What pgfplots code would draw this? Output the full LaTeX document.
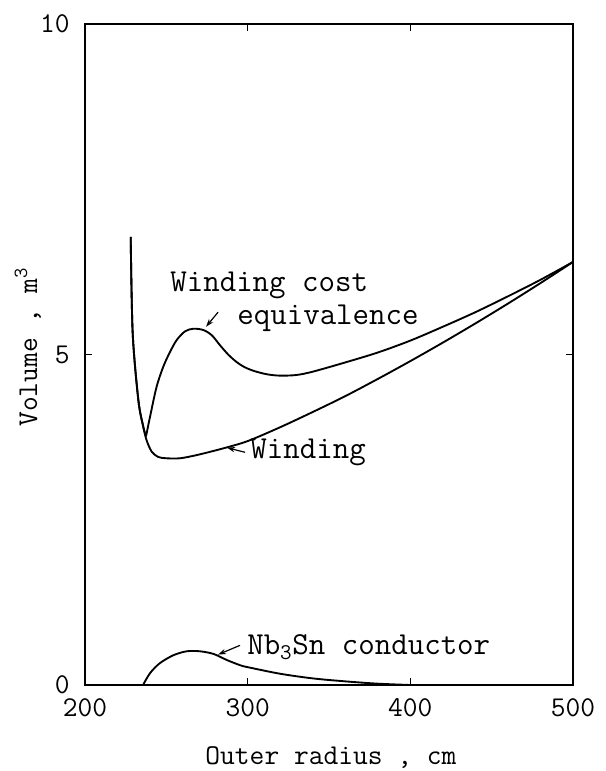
\documentclass[border=0pt]{standalone}
\usepackage{fontspec}
\usepackage{pgfplots}
\pgfplotsset{compat=1.18}
\usetikzlibrary{arrows.meta}
\newcommand{\lbl}{\ttfamily\fontsize{21.5}{21.5}\selectfont}
\newcommand{\ann}{\ttfamily\fontsize{24}{24}\selectfont}
\begin{document}
\begin{tikzpicture}
\begin{axis}[
  at={(0,0)}, anchor=south west,
  width=366pt, height=495.75pt, scale only axis,
  xmin=200, xmax=500, ymin=0, ymax=10,
  xtick={200,300,400,500}, ytick={0,5,10},
  tick align=inside, major tick length=5pt,
  axis line style={line width=1.4pt},
  tick style={line width=1.1pt, black},
  /pgf/number format/assume math mode=true,
  ticklabel style={font=\lbl},
  xticklabel style={yshift=-7pt},
  yticklabel style={xshift=-8pt},
  xlabel={Outer radius , cm},
  ylabel={Volume , m\textsuperscript{3}},
  label style={font=\lbl},
  xlabel style={at={(axis description cs:0.504,-0.110)}, anchor=center},
  ylabel style={at={(axis description cs:-0.117,0.511)}, anchor=center},
  clip=false,
]
% Winding (shares the steep descending part)
\addplot[black, line width=1.4pt, smooth] coordinates {
 (228.1,6.78) (229.3,5.33) (232.8,4.31) (235.8,3.91) (237.9,3.70)
 (241,3.53) (245,3.45) (250,3.43) (258.4,3.43) (269,3.48) (285,3.58)
 (300,3.69) (320,3.90) (340,4.13) (360,4.37) (380,4.63) (400,4.90)
 (420,5.18) (440,5.47) (460,5.77) (480,6.08) (500,6.40)
};
% Winding cost equivalence: descending part
\addplot[black, line width=1.4pt, smooth] coordinates {
 (228.1,6.78) (229.3,5.33) (232.8,4.31) (235.8,3.91) (237.5,3.76)
};
% Winding cost equivalence: branch
\addplot[black, line width=1.4pt, smooth] coordinates {
 (237.5,3.76) (240,4.06) (244,4.51) (248.2,4.82) (252.3,5.04) (256.4,5.22)
 (261.5,5.35) (266.6,5.39) (272.8,5.37) (278,5.29) (283,5.14) (288,5.00)
 (293,4.89) (298,4.81) (304,4.75) (312,4.70) (320,4.68) (330,4.69) (340,4.74)
 (360,4.88) (380,5.03) (400,5.21) (420,5.42) (440,5.64) (460,5.88)
 (480,6.13) (500,6.40)
};
% Nb3Sn conductor
\addplot[black, line width=1.4pt, smooth] coordinates {
 (235.7,0) (240,0.18) (246,0.33) (254.3,0.45) (262.5,0.51) (270.7,0.51)
 (279,0.47) (287,0.38) (295.3,0.30) (300,0.27) (320,0.17) (340,0.10)
 (360,0.055) (380,0.02) (400,0)
};
% annotations
\node[anchor=west, inner sep=0, font=\ann] at (axis cs:252.3,6.05) {Winding cost};
\node[anchor=west, inner sep=0, font=\ann] at (axis cs:293.5,5.55) {equivalence};
\draw[-{Stealth[length=6pt,width=4pt]}, line width=0.9pt] (axis cs:281.8,5.64) -- (axis cs:274.4,5.42);
\node[anchor=west, inner sep=0, font=\ann] at (axis cs:301.5,3.52) {Winding};
\draw[-{Stealth[length=6pt,width=4pt]}, line width=0.9pt] (axis cs:298.4,3.52) -- (axis cs:287.3,3.59);
\node[anchor=west, inner sep=0, font=\ann] at (axis cs:299.6,0.57) {Nb\textsubscript{3}Sn conductor};
\draw[-{Stealth[length=6pt,width=4pt]}, line width=0.9pt] (axis cs:295.3,0.60) -- (axis cs:281.8,0.46);
\end{axis}
\pgfresetboundingbox
\path[use as bounding box] (-63.75pt,-64.5pt) rectangle (390.75pt,513.75pt);
\end{tikzpicture}
\end{document}
